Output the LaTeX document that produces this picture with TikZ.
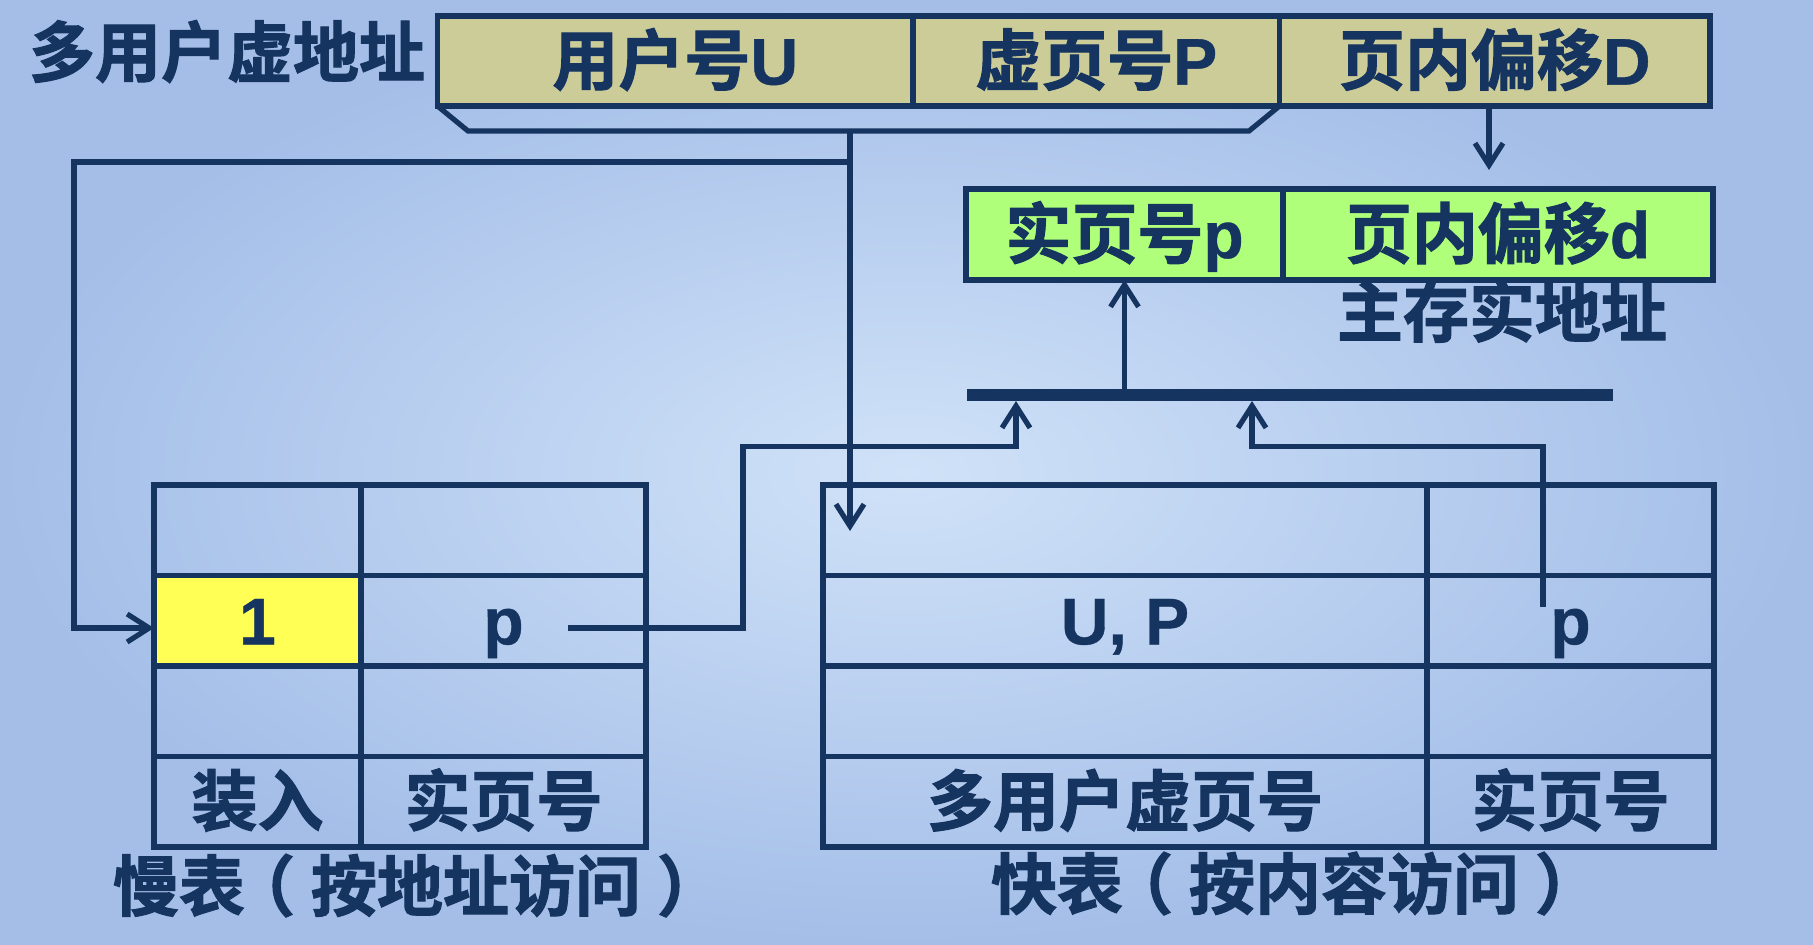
\documentclass[tikz,border=0pt]{standalone}
\usepackage{fontspec}
\setmainfont{Liberation Sans}[BoldFeatures={FakeBold=0.6}]
\newfontfamily\cjkf{Noto Sans CJK SC Bold}[FakeBold=1.6]
\newcommand\hz[1]{{\cjkf\mdseries #1}}
\newcommand\lp{\makebox[1em][l]{\hspace*{-0.24em}\hz{（}}}
\newcommand\rp{\makebox[1em][l]{\hspace*{0.24em}\hz{）}}}
\usetikzlibrary{arrows.meta}
\definecolor{ink}{RGB}{21,52,96}
\definecolor{beige}{RGB}{204,204,153}
\definecolor{lgreen}{RGB}{176,255,122}
\definecolor{yel}{RGB}{255,255,85}
\definecolor{bgA}{RGB}{208,226,248}
\definecolor{bgB}{RGB}{164,190,232}
\begin{document}
\begin{tikzpicture}[x=0.5pt,y=-0.5pt,
  txt/.style={text=ink, font=\fontsize{33}{40}\selectfont\bfseries, inner sep=0pt, text height=23.6pt, text depth=0pt},
  cell/.style={txt, draw=ink, line width=2.8pt, outer sep=0pt, minimum height=45.25pt},
  conn/.style={draw=ink, line width=2.6pt},
  arr/.style={conn, -{Straight Barb[length=11pt,width=14pt]}},
  bar/.style={draw=ink, line width=5.75pt},
]
\shade[inner color=bgA, outer color=bgB] (0,0) rectangle (1813,944);
\useasboundingbox (0,0) rectangle (1813,944);

% virtual address
\node[txt] (title) at (227,53) {\hz{多用户虚地址}};
\node[cell, fill=beige, minimum width=237.75pt, minimum height=45pt] (U) at (675.25,61) {\hz{用户号}U};
\node[cell, fill=beige, minimum width=183.25pt, minimum height=45pt] (P) at (1096.25,61) {\hz{虚页号}P};
\node[cell, fill=beige, minimum width=215.25pt, minimum height=45pt] (D) at (1494.75,61) {\hz{页内偏移}D};

% real address
\node[cell, fill=lgreen, minimum width=158.5pt, minimum height=45.5pt] (G1) at (1124.5,234.5) {\hz{实页号}p};
\node[cell, fill=lgreen, minimum width=215pt, minimum height=45.5pt] (G2) at (1498,234.5) {\hz{页内偏移}d};
\node[txt] (mainaddr) at (1502,313) {\hz{主存实地址}};

% slow table
\node[cell, minimum width=103.5pt] (S11) at (257.5,530.25) {};
\node[cell, minimum width=142.5pt] (S12) at (503.5,530.25) {};
\node[cell, minimum width=103.5pt] (S31) at (257.5,711.25) {};
\node[cell, minimum width=142.5pt] (S32) at (503.5,711.25) {};
\node[cell, minimum width=103.5pt] (S41) at (257.5,801.75) {\hz{装入}};
\node[cell, minimum width=142.5pt] (S42) at (503.5,801.75) {\hz{实页号}};
\node[cell, minimum width=142.5pt] (S22) at (503.5,620.75) {p};
\node[cell, fill=yel, minimum width=103.5pt] (S21) at (257.5,620.75) {1};
\node[txt] (slowlbl) at (410,887) {\hz{慢表}\lp\hz{按地址访问}\rp};

% fast table
\node[cell, minimum width=302pt] (F11) at (1125,530.25) {};
\node[cell, minimum width=143.5pt] (F12) at (1570.5,530.25) {};
\node[cell, minimum width=302pt] (F21) at (1125,620.75) {U, P};
\node[cell, minimum width=143.5pt] (F22) at (1570.5,620.75) {p};
\node[cell, minimum width=302pt] (F31) at (1125,711.25) {};
\node[cell, minimum width=143.5pt] (F32) at (1570.5,711.25) {};
\node[cell, minimum width=302pt] (F41) at (1125,801.75) {\hz{多用户虚页号}};
\node[cell, minimum width=143.5pt] (F42) at (1570.5,801.75) {\hz{实页号}};
\node[txt] (fastlbl) at (1288,885) {\hz{快表}\lp\hz{按内容访问}\rp};

% bracket under U and P
\coordinate (bk1) at (468,131);
\coordinate (bk2) at (1249,131);
\draw[conn] (U.south west) -- (bk1) -- (bk2) -- (P.south east);

% U,P to fast table and to slow table
\coordinate (br) at (850,131);
\coordinate (j1) at (850,162);
\coordinate (ftIn) at (850,531);
\draw[arr] (br) -- (ftIn);
\coordinate (lc1) at (74,162);
\coordinate (lc2) at (74,628);
\draw[arr] (j1) -- (lc1) -- (lc2) -- (S21.west |- lc2);

% offset D down to d
\coordinate (dtip) at (1489,170);
\draw[arr] (dtip |- D.south) -- (dtip);

% bus bar
\coordinate (barL) at (967,395);
\coordinate (barR) at (1613,395);
\draw[bar] (barL) -- (barR);
\draw[arr] (G1.south |- barL) -- (G1.south);

% slow table p to bar
\coordinate (sp) at (568,628);
\coordinate (sk) at (743,446.5);
\coordinate (ba1) at (1016,401);
\draw[arr] (sp) -| (sk) -| (ba1);

% fast table p to bar
\coordinate (fp) at (1543,607);
\coordinate (ba2) at (1252,401);
\draw[arr] (fp) |- (ba2 |- sk) -- (ba2);
\end{tikzpicture}
\end{document}
